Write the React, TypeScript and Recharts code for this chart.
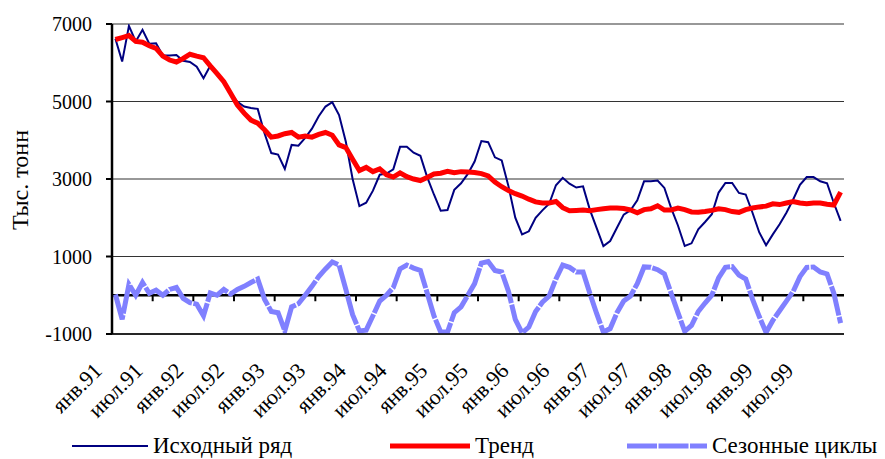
import { CartesianGrid, Line, LineChart, ReferenceLine, XAxis, YAxis } from 'recharts';

const FONT = '"Liberation Serif", "Times New Roman", serif';

const monthNames = ['янв', 'фев', 'мар', 'апр', 'май', 'июн', 'июл', 'авг', 'сен', 'окт', 'ноя', 'дек'];
const years = ['91', '92', '93', '94', '95', '96', '97', '98', '99'];

// исходный ряд, тыс. тонн (янв.91 - дек.99)
const original = [
    6620, 6030, 6950, 6550, 6850, 6490, 6500, 6190, 6190, 6200, 6050, 6020,
    5900, 5600, 5920, 5720, 5550, 5220, 4990, 4870, 4830, 4810, 4180, 3670,
    3630, 3260, 3880, 3860, 4060, 4300, 4620, 4870, 4980, 4650, 3960, 3000,
    2300, 2390, 2700, 3110, 3140, 3250, 3830, 3830, 3680, 3600, 3050, 2600,
    2180, 2200, 2720, 2890, 3130, 3450, 3980, 3950, 3560, 3480, 2810, 2000,
    1570, 1650, 2000, 2190, 2360, 2840, 3030, 2880, 2780, 2810, 2210, 1740,
    1270, 1400, 1740, 2080, 2190, 2450, 2940, 2940, 2960, 2770, 2250, 1800,
    1270, 1340, 1700, 1890, 2090, 2650, 2900, 2900, 2640, 2600, 2130, 1620,
    1290, 1570, 1830, 2130, 2470, 2850, 3050, 3050, 2940, 2890, 2380, 1920,
];

const trend = [
    6600, 6650, 6700, 6550, 6530, 6440, 6370, 6170, 6070, 6020, 6110, 6220,
    6170, 6130, 5920, 5720, 5510, 5210, 4910, 4700, 4520, 4440, 4270, 4080,
    4110, 4170, 4200, 4080, 4110, 4080, 4150, 4200, 4130, 3880, 3810, 3510,
    3220, 3300, 3190, 3260, 3110, 3050, 3160, 3060, 3000, 2960, 3040, 3130,
    3150, 3200, 3160, 3190, 3180, 3170, 3140, 3080, 2920, 2800, 2700, 2620,
    2560, 2480, 2410, 2380, 2380, 2420, 2260, 2180, 2190, 2200, 2180, 2210,
    2230, 2250, 2250, 2240, 2200, 2130, 2210, 2230, 2310, 2200, 2200, 2250,
    2210, 2150, 2140, 2160, 2190, 2230, 2210, 2160, 2140, 2210, 2250, 2280,
    2300, 2360, 2340, 2380, 2420, 2380, 2360, 2380, 2380, 2350, 2330, 2660,
];

const seasonal = [
    20, -620, 280, 0, 330, 50, 130, 0, 150, 200, -80, -190,
    -230, -530, 60, 0, 150, 30, 150, 230, 330, 420, -100, -420,
    -450, -920, -300, -220, 0, 230, 480, 680, 860, 780, 150, -500,
    -920, -900, -530, -150, 0, 200, 680, 780, 700, 640, 60, -530,
    -950, -950, -450, -300, 0, 300, 830, 870, 640, 600, 100, -620,
    -970, -820, -420, -180, -20, 420, 780, 720, 600, 600, 50, -470,
    -950, -860, -450, -150, -20, 300, 730, 720, 660, 550, 50, -450,
    -930, -780, -420, -200, 0, 450, 720, 740, 520, 420, -100, -550,
    -960, -650, -400, -150, 100, 480, 720, 730, 600, 550, 50, -720,
];

const yTicks = [-1000, 1000, 3000, 5000, 7000];

const months = years.flatMap((y) => monthNames.map((m) => `${m}.${y}`));

const data = months.map((month, i) => ({
    month,
    original: original[i],
    trend: trend[i],
    seasonal: seasonal[i],
}));

const PLOT_LEFT = 112;
const PLOT_RIGHT = 844;
const PLOT_TOP = 24;
const PLOT_BOTTOM = 334;
const Y_MIN = -1000;
const Y_MAX = 7000;
const ZERO_Y = PLOT_TOP + ((PLOT_BOTTOM - PLOT_TOP) * Y_MAX) / (Y_MAX - Y_MIN);
const HALF_STEP = (PLOT_RIGHT - PLOT_LEFT) / months.length / 2;
const SEASON_DASH = '30 1.5';

const MonthTick = (props: any) => {
    const { x, payload } = props;
    const tx = x - 12;
    const ty = 372;
    return (
        <g>
            <line x1={x - HALF_STEP} x2={x - HALF_STEP} y1={ZERO_Y} y2={ZERO_Y + 6} stroke="#000" strokeWidth={2} />
            <g transform={`translate(${tx} ${ty}) rotate(-45)`}>
                <text x={0} y={0} textAnchor="end" fontSize={22} fontFamily={FONT} fill="#000">
                    {payload.value}
                </text>
            </g>
        </g>
    );
};

const legendItems = [
    { label: 'Исходный ряд', color: '#000080', width: 2, dash: undefined, x: 72, len: 76 },
    { label: 'Тренд', color: '#ff0000', width: 5, dash: undefined, x: 390, len: 80 },
    { label: 'Сезонные циклы', color: '#8080ff', width: 5, dash: SEASON_DASH, x: 627, len: 80 },
];

const App = () => {
    return (
        <div style={{ position: 'absolute', left: 0, top: 0, width: 885, height: 459, background: '#fff', fontFamily: FONT }}>
            <LineChart
                width={885}
                height={459}
                data={data}
                margin={{ top: PLOT_TOP, right: 885 - PLOT_RIGHT, bottom: 0, left: 0 }}
            >
                <CartesianGrid vertical={false} stroke="#333" strokeWidth={1.2} />
                <XAxis
                    dataKey="month"
                    interval={5}
                    tickLine={false}
                    axisLine={{ stroke: '#000', strokeWidth: 1.5 }}
                    tick={<MonthTick />}
                    height={459 - PLOT_BOTTOM}
                    padding={{ left: HALF_STEP, right: HALF_STEP }}
                />
                <YAxis
                    width={PLOT_LEFT}
                    domain={[Y_MIN, Y_MAX]}
                    ticks={yTicks}
                    allowDataOverflow
                    tickSize={6}
                    tickMargin={14}
                    tickLine={{ stroke: '#000', strokeWidth: 2 }}
                    axisLine={{ stroke: '#000', strokeWidth: 2.5 }}
                    tick={{ fill: '#000', fontSize: 20, fontFamily: FONT }}
                />
                <ReferenceLine y={0} stroke="#000" strokeWidth={2.5} />
                <Line
                    dataKey="seasonal"
                    stroke="#8080ff"
                    strokeWidth={5}
                    strokeDasharray={SEASON_DASH}
                    dot={false}
                    isAnimationActive={false}
                />
                <Line dataKey="original" stroke="#000080" strokeWidth={2} dot={false} isAnimationActive={false} />
                <Line dataKey="trend" stroke="#ff0000" strokeWidth={5} dot={false} isAnimationActive={false} />
            </LineChart>
            <svg width={40} height={300} style={{ position: 'absolute', left: 0, top: 30 }}>
                <text
                    x={0}
                    y={0}
                    transform="translate(28 150) rotate(-90)"
                    textAnchor="middle"
                    fontSize={24}
                    fontFamily={FONT}
                    fill="#000"
                >
                    Тыс. тонн
                </text>
            </svg>
            {legendItems.map((item) => (
                <div
                    key={item.label}
                    style={{ position: 'absolute', left: item.x, top: 432, display: 'flex', alignItems: 'center', height: 28 }}
                >
                    <svg width={item.len} height={10}>
                        <line x1={0} x2={item.len} y1={5} y2={5} stroke={item.color} strokeWidth={item.width} strokeDasharray={item.dash} />
                    </svg>
                    <span style={{ fontSize: 23, marginLeft: 5, color: '#000', whiteSpace: 'nowrap' }}>{item.label}</span>
                </div>
            ))}
        </div>
    );
};

export default App;
